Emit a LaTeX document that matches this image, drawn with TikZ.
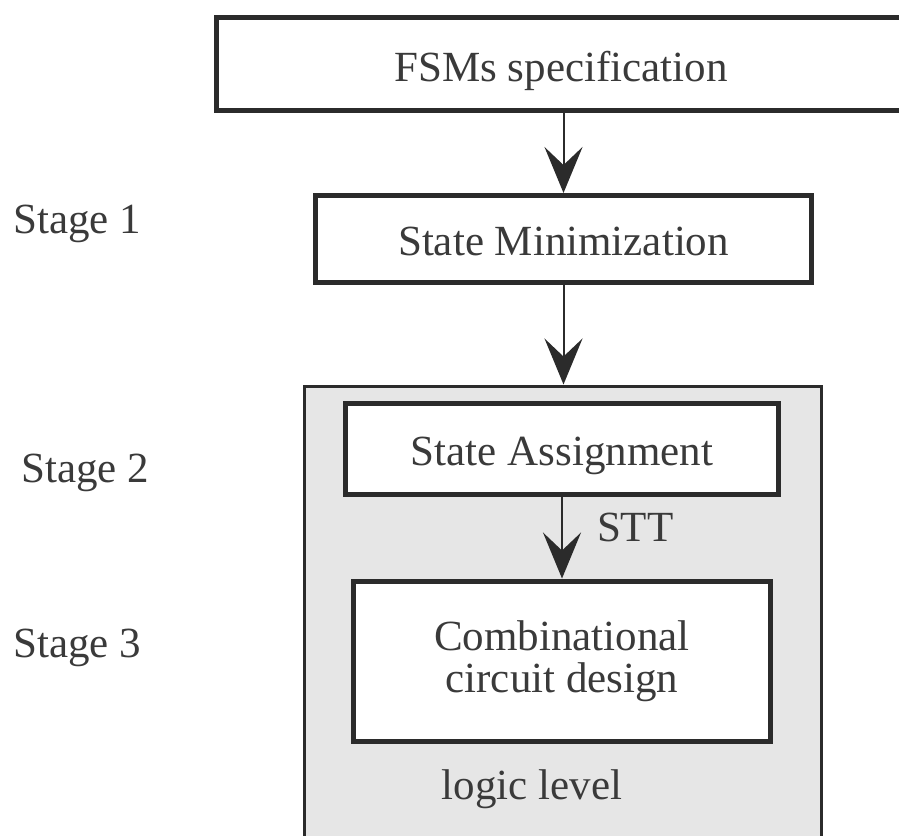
\documentclass[tikz,border=0pt]{standalone}
\usepackage{fontspec}
\setmainfont{Liberation Serif}
\usetikzlibrary{arrows.meta}
\definecolor{ink}{HTML}{2B2B2B}
\definecolor{txt}{HTML}{3A3A3A}
\definecolor{panel}{HTML}{E6E6E6}
% lower a line of text without changing the size it reports
\newcommand\dropby[2]{\raisebox{-#1}[\height][\depth]{#2}}
\tikzset{
  box/.style={draw=ink, line width=5pt, fill=white, inner sep=0pt,
    text=txt, font=\fontsize{43}{42}\selectfont, align=center},
  lbl/.style={text=txt, font=\fontsize{43}{46}\selectfont, inner sep=0pt},
  flow/.style={draw=ink, line width=2pt,
    -{Stealth[length=46pt,width=38pt,inset=18pt]}},
}
\begin{document}
\begin{tikzpicture}[x=1pt, y=-1pt]
  \useasboundingbox (0,0) rectangle (899,835);

  % shaded panel holding stages 2 and 3 (runs past the lower edge)
  \node[draw=ink, line width=3pt, fill=panel, inner sep=0pt,
        minimum width=517pt, minimum height=480pt, anchor=north]
        (group) at (563,384.5) {};

  % process boxes
  \node[box, minimum width=690pt, minimum height=92.5pt]
        (spec) at (561,63.75) {\dropby{7pt}{FSMs specification}};
  \node[box, minimum width=496pt, minimum height=87pt]
        (min) at (563.5,239) {\dropby{2pt}{State Minimization}};
  \node[box, minimum width=433pt, minimum height=91pt]
        (assign) at (562,449) {\dropby{7pt}{State Assignment}};
  \node[box, minimum width=417pt, minimum height=160pt]
        (comb) at (562,661) {Combinational\\circuit design};

  % stage captions
  \node[lbl, anchor=west] (s1) at (13,224) {Stage 1};
  \node[lbl, anchor=west] (s2) at (21,473) {Stage 2};
  \node[lbl, anchor=west] (s3) at (13,648) {Stage 3};
  \node[lbl] (level) at (532,789) {logic level};

  % flow arrows
  \draw[flow] (min.north |- spec.south) -- (min.north);
  \draw[flow] (min.south) -- (min.south |- group.north);
  \draw[flow] (comb.north |- assign.south) -- (comb.north)
    node[lbl, midway, anchor=west, xshift=34pt, yshift=10pt] (stt) {STT};
\end{tikzpicture}
\end{document}
